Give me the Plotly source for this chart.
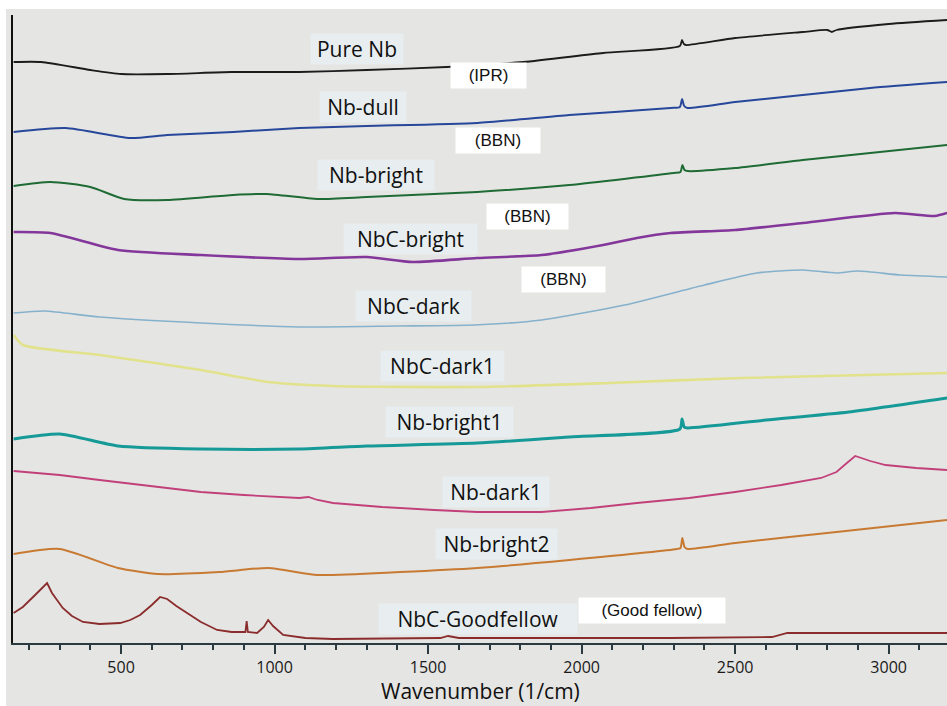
import plotly.graph_objects as go

# ---------------- data (arbitrary intensity units) ----------------
pure_nb_x = [150, 240, 400, 500, 650, 860, 1080, 1300, 1560, 1810, 2070, 2320, 2327, 2333, 2340, 2500, 2720, 2800, 2815, 2830, 3000, 3190]
pure_nb_y = [581, 581, 573, 569, 569, 571, 571, 573, 576, 581, 590, 597, 603, 599, 598, 605, 611, 613, 611, 613, 619, 623]

nb_dull_x = [150, 320, 530, 650, 865, 1080, 1300, 1660, 1960, 2290, 2320, 2327, 2334, 2345, 2500, 2720, 2940, 3190]
nb_dull_y = [511, 515, 505, 508, 511, 515, 517, 520, 528, 535, 536, 544, 537, 535, 541, 548, 555, 561]

nb_bright_x = [150, 270, 400, 510, 650, 865, 975, 1140, 1300, 1660, 1960, 2300, 2322, 2328, 2335, 2345, 2500, 2720, 2940, 3190]
nb_bright_y = [457, 461, 456, 444, 443, 448, 449, 444, 446, 451, 458, 470, 471, 478, 473, 472, 475, 483, 490, 498]

nbc_bright_x = [150, 270, 490, 760, 1080, 1300, 1450, 1660, 1870, 2070, 2180, 2290, 2500, 2720, 3020, 3150, 3190]
nbc_bright_y = [411, 410, 393, 388, 384, 386, 381, 385, 388, 398, 405, 410, 413, 420, 430, 427, 430]

nbc_dark_x = [150, 250, 430, 760, 1080, 1400, 1650, 1870, 2140, 2400, 2570, 2720, 2830, 2900, 3040, 3190]
nbc_dark_y = [330, 332, 326, 320, 316, 317, 318, 323, 338, 358, 370, 373, 370, 372, 368, 366]

nbc_dark1_x = [150, 180, 430, 760, 980, 1190, 1660, 2090, 2520, 3190]
nbc_dark1_y = [308, 298, 288, 273, 261, 257, 256, 260, 265, 270]

nb_bright1_x = [150, 300, 490, 760, 1080, 1300, 1660, 1960, 2320, 2327, 2334, 2345, 2600, 2870, 3190]
nb_bright1_y = [204, 209, 197, 194, 194, 197, 200, 206, 214, 224, 216, 215, 223, 231, 245]

nb_dark1_x = [150, 300, 430, 600, 760, 900, 1080, 1110, 1140, 1190, 1350, 1520, 1660, 1870, 2030, 2180,
              2350, 2500, 2650, 2780, 2830, 2860, 2891, 2940, 2990, 3090, 3190]
nb_dark1_y = [172, 168, 163, 157, 151, 148, 145, 146, 143, 140, 136, 133, 131, 131, 135, 140,
              145, 151, 158, 165, 171, 179, 187, 182, 178, 175, 173]

nb_bright2_x = [150, 300, 490, 620, 820, 980, 1140, 1410, 1660, 1960, 2310, 2322, 2328, 2335, 2345, 2500, 2830, 3190]
nb_bright2_y = [89, 94, 75, 69, 71, 75, 68, 71, 75, 83, 94, 95, 105, 96, 94, 100, 111, 123]

goodfellow_x = [150, 180, 220, 259, 275, 290, 310, 340, 376, 430, 497, 530, 562, 600, 627, 650, 680, 715, 760,
                813, 860, 905, 909, 913, 943, 965, 979, 995, 1028, 1100, 1190, 1540, 1565, 1600, 2290, 2620,
                2670, 3190]
goodfellow_y = [30, 36, 48, 60, 50, 43, 35, 27, 21, 19, 20, 23, 28, 38, 46, 44, 37, 30, 21,
                13, 11, 11, 22, 11, 10, 16, 23, 17, 8, 5, 4, 5, 7, 5, 5, 6,
                10, 10]

series_names = ["Pure Nb", "Nb-dull", "Nb-bright", "NbC-bright", "NbC-dark",
                "NbC-dark1", "Nb-bright1", "Nb-dark1", "Nb-bright2", "NbC-Goodfellow"]
series_x = [pure_nb_x, nb_dull_x, nb_bright_x, nbc_bright_x, nbc_dark_x,
            nbc_dark1_x, nb_bright1_x, nb_dark1_x, nb_bright2_x, goodfellow_x]
series_y = [pure_nb_y, nb_dull_y, nb_bright_y, nbc_bright_y, nbc_dark_y,
            nbc_dark1_y, nb_bright1_y, nb_dark1_y, nb_bright2_y, goodfellow_y]
series_colors = ["#1c1c1c", "#27479a", "#1f6b35", "#84379a", "#86b1cc",
                 "#e2e28c", "#169a98", "#c2407a", "#c87a32", "#8a2c2c"]
series_widths = [1.8, 2.0, 2.0, 2.6, 1.6, 2.6, 3.0, 1.8, 2.0, 1.8]
series_shapes = ["spline", "spline", "spline", "spline", "spline",
                 "spline", "spline", "linear", "spline", "linear"]

tick_vals = [500, 1000, 1500, 2000, 2500, 3000]
tick_text = ["500", "1000", "1500", "2000", "2500", "3000"]

source_labels = ["(IPR)", "(BBN)", "(BBN)", "(BBN)", "(Good fellow)"]

# ---------------- figure ----------------
fig = go.Figure()
for xs, ys, name, col, w, shp in zip(series_x, series_y, series_names, series_colors,
                                     series_widths, series_shapes):
    line = dict(color=col, width=w, shape=shp)
    if shp == "spline":
        line["smoothing"] = 0.6
    fig.add_trace(go.Scatter(x=xs, y=ys, mode="lines", name=name, line=line, showlegend=False))

BG = "#e5e5e3"
BOX = "#e8eef0"

# sample-name labels (x in wavenumber, y in intensity units, box width px)
name_pos = [(1268, 594, 90), (1288, 536, 84), (1330, 468, 114), (1441, 404, 131), (1453, 337, 113),
            (1547, 277, 121), (1570, 221, 125), (1721, 151, 104), (1723, 99, 119), (1663, 24, 196)]
annotations = []
for (ax_, ay_, bw), txt in zip(name_pos, series_names):
    annotations.append(dict(x=ax_, y=ay_, xref="x", yref="y", text=txt, showarrow=False,
                            font=dict(family="Open Sans", size=21, color="#111111"),
                            bgcolor=BOX, borderpad=1, width=bw, align="center"))

src_pos = [(1697, 568, 69), (1728, 503, 78), (1824, 427, 75), (1941, 364, 77), (2229, 33, 140)]
for (ax_, ay_, bw), txt in zip(src_pos, source_labels):
    annotations.append(dict(x=ax_, y=ay_, xref="x", yref="y", text=txt, showarrow=False,
                            font=dict(family="Liberation Sans, Arial", size=17, color="#111111"),
                            bgcolor="#ffffff", borderpad=3, width=bw, align="center"))

# axis title as an annotation anchored to the bottom edge of the page
annotations.append(dict(x=0.5, y=0, xref="paper", yref="paper", yanchor="bottom", yshift=-63,
                        text="Wavenumber (1/cm)", showarrow=False, borderpad=0,
                        font=dict(family="Open Sans", size=21, color="#111111")))

fig.update_layout(
    width=947, height=706,
    margin=dict(l=13, r=0, t=15, b=63),
    paper_bgcolor=BG, plot_bgcolor=BG,
    annotations=annotations,
    shapes=[
        dict(type="rect", xref="paper", yref="paper", x0=-0.02, x1=1.01, y0=1.0096, y1=1.05,
             fillcolor="#ffffff", line=dict(width=0), layer="below"),
        dict(type="rect", xref="paper", yref="paper", x0=-0.02, x1=-0.0075, y0=-0.11, y1=1.05,
             fillcolor="#ffffff", line=dict(width=0), layer="below"),
    ],
)
fig.update_xaxes(range=[148, 3190], showgrid=False, zeroline=False, automargin=False,
                 showline=True, linecolor="#2b3a40", linewidth=2,
                 ticks="outside", ticklen=9, tickwidth=2, tickcolor="#2b3a40",
                 tickvals=tick_vals, ticktext=tick_text,
                 minor=dict(dtick=100, tick0=0, ticks="outside", ticklen=5, tickwidth=1.5, tickcolor="#2b3a40"),
                 tickfont=dict(family="Open Sans", size=16, color="#1a1a1a"))
fig.update_yaxes(range=[0, 628], showgrid=False, zeroline=False, showticklabels=False,
                 showline=True, linecolor="#111111", linewidth=1.5, ticks="")

fig.write_html("out.html")
